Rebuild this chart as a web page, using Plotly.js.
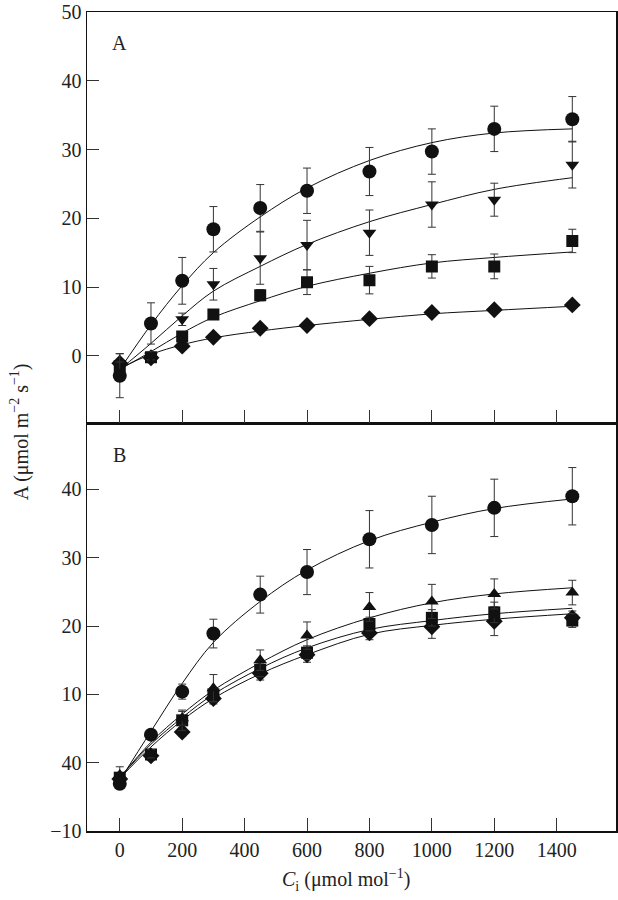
<!DOCTYPE html>
<html>
<head>
<meta charset="utf-8">
<script src="https://cdn.plot.ly/plotly-3.0.1.min.js"></script>
<style>
  body { margin: 0; background: #fff; }
  #chart { width: 618px; height: 900px; }
</style>
</head>
<body>
<div id="chart"></div>
<script>
// Ci values (µmol mol-1), same for every series
var ci = [0, 100, 200, 300, 450, 600, 800, 1000, 1200, 1450];

// panel A, measured points and error bars
var aCircle = [-2.9, 4.7, 10.9, 18.4, 21.5, 24.0, 26.8, 29.7, 33.0, 34.4];
var aCircleErr = [3.2, 3.0, 3.4, 3.3, 3.4, 3.3, 3.5, 3.3, 3.3, 3.3];
var aTri = [-1.5, 0.0, 5.3, 10.4, 14.2, 16.1, 17.9, 22.0, 22.7, 27.8];
var aTriErr = [0.6, 0.6, 0.9, 2.3, 3.8, 3.6, 3.3, 3.3, 2.4, 3.4];
var aSquare = [-1.5, -0.2, 2.8, 6.0, 8.8, 10.7, 11.0, 13.0, 13.0, 16.7];
var aSquareErr = [0.5, 0.5, 0.6, 0.6, 0.8, 1.8, 2.0, 1.7, 1.8, 1.7];
var aDiamond = [-1.1, -0.3, 1.4, 2.7, 4.0, 4.4, 5.4, 6.3, 6.7, 7.4];
var aDiamondErr = [1.4, 0.4, 0.4, 0.4, 0.4, 0.4, 0.4, 0.4, 0.4, 0.4];

// panel A, fitted curves
var aCircleFit = [-2.0, 4.5, 10.2, 15.0, 20.2, 24.4, 28.4, 31.0, 32.4, 33.0];
var aTriFit = [-2.0, 1.8, 5.8, 9.4, 13.0, 16.2, 19.5, 22.0, 24.2, 25.9];
var aSquareFit = [-2.0, 0.6, 3.3, 5.6, 8.0, 10.1, 12.0, 13.5, 14.3, 15.1];
var aDiamondFit = [-1.8, 0.2, 1.6, 2.6, 3.6, 4.4, 5.3, 6.1, 6.6, 7.2];

// panel B, measured points and error bars
var bCircle = [-3.1, 4.1, 10.4, 18.9, 24.6, 27.9, 32.7, 34.8, 37.3, 39.0];
var bCircleErr = [0.6, 0.6, 1.1, 2.1, 2.7, 3.3, 4.2, 4.2, 4.2, 4.2];
var bTri = [-1.8, 1.3, 6.5, 10.9, 15.0, 18.6, 22.8, 23.6, 24.7, 24.9];
var bTriErr = [1.2, 0.6, 1.0, 2.0, 1.5, 2.0, 2.1, 2.5, 2.2, 1.8];
var bSquare = [-2.2, 1.2, 6.2, 10.0, 13.6, 16.1, 20.3, 21.2, 22.0, 20.8];
var bSquareErr = [0.6, 0.6, 1.5, 1.0, 1.0, 1.0, 1.0, 1.2, 1.5, 1.0];
var bDiamond = [-2.4, 1.0, 4.5, 9.4, 13.1, 15.8, 19.0, 19.9, 20.7, 21.2];
var bDiamondErr = [0.6, 0.6, 0.6, 0.8, 1.0, 1.1, 1.0, 1.7, 2.1, 1.0];

// panel B, fitted curves
var bCircleFit = [-2.6, 4.6, 11.6, 17.6, 23.6, 28.2, 32.5, 35.2, 37.2, 38.6];
var bTriFit = [-2.2, 3.0, 7.1, 10.6, 14.6, 18.0, 21.2, 23.4, 24.7, 25.6];
var bSquareFit = [-2.2, 2.7, 6.6, 10.0, 13.8, 16.8, 19.5, 20.8, 21.8, 22.6];
var bDiamondFit = [-2.3, 2.3, 6.2, 9.4, 13.0, 15.8, 18.8, 20.1, 21.0, 21.8];

// y tick labels as printed (panel B has "40" at zero)
var aTickVals = [0, 10, 20, 30, 40, 50];
var aTickText = ['0', '10', '20', '30', '40', '50'];
var bTickVals = [-10, 0, 10, 20, 30, 40];
var bTickText = ['\u221210', '40', '10', '20', '30', '40'];
var xTickVals = [0, 200, 400, 600, 800, 1000, 1200, 1400];

var ink = '#111';

function fit(y, xa, ya) {
  return {x: ci, y: y, xaxis: xa, yaxis: ya, mode: 'lines', type: 'scatter',
    line: {color: ink, width: 1, shape: 'spline', smoothing: 1}, hoverinfo: 'skip'};
}

function pts(y, err, sym, size, xa, ya) {
  return {x: ci, y: y, xaxis: xa, yaxis: ya, mode: 'markers', type: 'scatter',
    marker: {symbol: sym, size: size, color: ink, line: {width: 0}},
    error_y: {type: 'data', array: err, visible: true, color: '#333', thickness: 1, width: 4}};
}

var data = [
  fit(aCircleFit, 'x2', 'y'), fit(aTriFit, 'x2', 'y'),
  fit(aSquareFit, 'x2', 'y'), fit(aDiamondFit, 'x2', 'y'),
  pts(aDiamond, aDiamondErr, 'diamond', 13, 'x2', 'y'),
  pts(aSquare, aSquareErr, 'square', 12, 'x2', 'y'),
  pts(aTri, aTriErr, 'triangle-down', 12, 'x2', 'y'),
  pts(aCircle, aCircleErr, 'circle', 14, 'x2', 'y'),

  fit(bCircleFit, 'x', 'y2'), fit(bTriFit, 'x', 'y2'),
  fit(bSquareFit, 'x', 'y2'), fit(bDiamondFit, 'x', 'y2'),
  pts(bDiamond, bDiamondErr, 'diamond', 13, 'x', 'y2'),
  pts(bSquare, bSquareErr, 'square', 12, 'x', 'y2'),
  pts(bTri, bTriErr, 'triangle-up', 12, 'x', 'y2'),
  pts(bCircle, bCircleErr, 'circle', 14, 'x', 'y2')
];

var axFont = {family: 'Liberation Serif, Times New Roman, serif', size: 20, color: '#222'};

var xBase = {
  range: [-105, 1590], tickvals: xTickVals, ticks: 'inside', ticklen: 13,
  tickcolor: '#333', tickwidth: 1, showline: true, linecolor: ink, linewidth: 1.5,
  mirror: true, showgrid: false, zeroline: false, tickfont: axFont
};

var layout = {
  width: 618, height: 900,
  margin: {l: 87, r: 2, t: 12, b: 69},
  paper_bgcolor: '#fff', plot_bgcolor: '#fff',
  showlegend: false,
  font: axFont,
  xaxis: Object.assign({}, xBase, {anchor: 'y2'}),
  xaxis2: Object.assign({}, xBase, {anchor: 'y', matches: 'x', showticklabels: false}),
  yaxis: {
    domain: [0.498, 1], range: [-9.8, 50], tickvals: aTickVals, ticktext: aTickText,
    ticks: 'inside', ticklen: 12, tickcolor: '#333', tickwidth: 1,
    showline: true, linecolor: ink, linewidth: 1.5, mirror: true,
    showgrid: false, zeroline: false, tickfont: axFont, anchor: 'x2'
  },
  yaxis2: {
    domain: [0, 0.498], range: [-10, 49.7], tickvals: bTickVals, ticktext: bTickText,
    ticks: 'inside', ticklen: 12, tickcolor: '#333', tickwidth: 1,
    showline: true, linecolor: ink, linewidth: 1.5, mirror: true,
    showgrid: false, zeroline: false, tickfont: axFont, anchor: 'x'
  },
  annotations: [
    {text: 'A', xref: 'x2', yref: 'y', x: 0, y: 45.5, showarrow: false,
     font: axFont, xanchor: 'center', yanchor: 'middle'},
    {text: 'B', xref: 'x', yref: 'y2', x: 0, y: 45, showarrow: false,
     font: axFont, xanchor: 'center', yanchor: 'middle'},
    {text: 'A (\u03bcmol m<sup>\u22122</sup> s<sup>\u22121</sup>)', xref: 'paper', yref: 'paper',
     x: -0.127, y: 0.488, textangle: -90, showarrow: false, font: axFont,
     xanchor: 'center', yanchor: 'middle'},
    {text: '<i>C</i><sub>i</sub> (\u03bcmol mol<sup>\u22121</sup>)', xref: 'paper', yref: 'paper',
     x: 0.49, y: -0.06, showarrow: false, font: axFont,
     xanchor: 'center', yanchor: 'middle'}
  ]
};

Plotly.newPlot('chart', data, layout, {displayModeBar: false, staticPlot: true});
</script>
</body>
</html>
